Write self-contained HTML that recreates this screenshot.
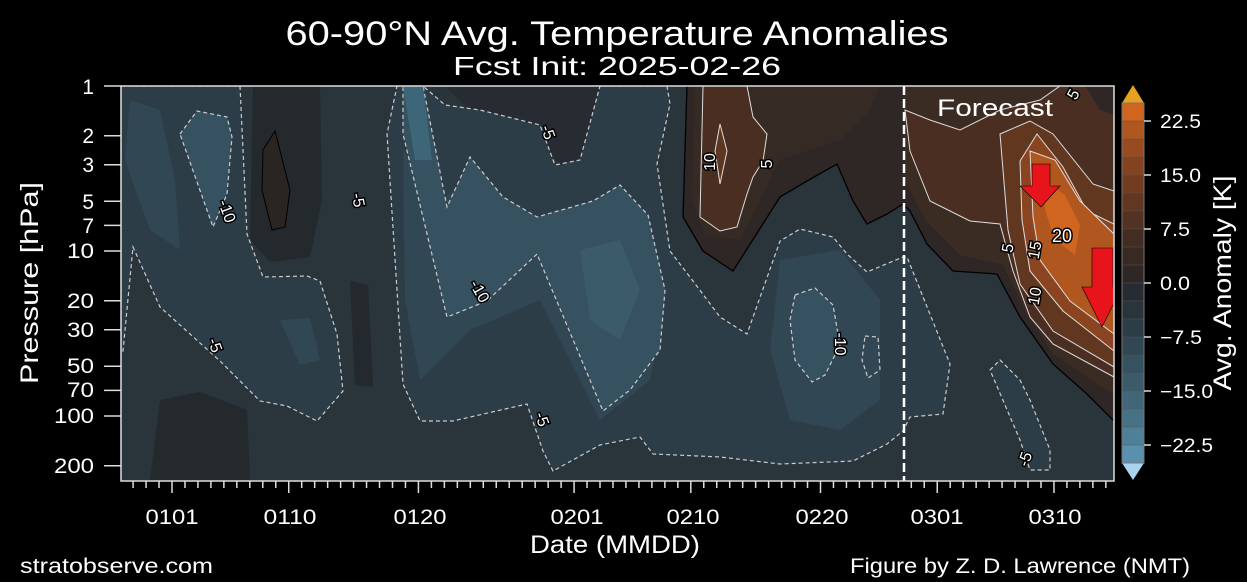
<!DOCTYPE html>
<html><head><meta charset="utf-8"><style>
html,body{margin:0;padding:0;background:#000;}
svg{display:block;font-family:"Liberation Sans",sans-serif;}
.cl{font-size:16px;fill:#fff;stroke:#000;stroke-width:3px;paint-order:stroke;}
</style></head><body>
<svg width="1247" height="582" viewBox="0 0 1247 582" xmlns="http://www.w3.org/2000/svg">
<rect width="1247" height="582" fill="#000"/>
<defs><clipPath id="pc"><rect x="121" y="86" width="993" height="395"/></clipPath></defs>
<g clip-path="url(#pc)">
<rect x="121" y="86" width="993" height="395" fill="#29343b"/>
<path d="M253,86 L320,86 L322,200 L310,257 L270,262 L250,240 Z" fill="#23292d"/>
<path d="M160,400 L200,392 L247,410 L250,481 L150,481 Z" fill="#23292d"/>
<path d="M350,281 L368,285 L373,387 L355,385 Z" fill="#23292d"/>
<path d="M263,150 L275,131 L290,190 L285,227 L272,230 L262,190 Z" fill="#2b2522" stroke="#000" stroke-width="1"/>
<path d="M445,86 L600,86 L600,150 L560,165 L520,120 L470,110 Z" fill="#262c31"/>
<path d="M121,86 L240,86 L247,234 L263,277 L307,276 L320,281 L337,334 L343,391 L317,421 L287,406 L260,401 L220,361 L160,307 L133,247 L123,351 L121,351 Z" fill="#2d3d47" stroke="#ccc" stroke-width="1.2" stroke-dasharray="4,3"/>
<path d="M397,86 L423,86 L445,105 L480,110 L540,125 L555,165 L580,160 L600,86 L667,86 L670,104 L657,164 L670,251 L693,281 L720,317 L747,334 L780,241 L800,229 L833,237 L847,254 L867,272 L903,257 L907,257 L950,364 L943,414 L910,417 L903,431 L887,444 L853,461 L780,464 L720,457 L653,454 L640,437 L600,445 L553,471 L543,451 L527,404 L453,421 L420,421 L403,384 L387,134 Z" fill="#2d3d47" stroke="#ccc" stroke-width="1.2" stroke-dasharray="4,3"/>
<path d="M990,370 L1000,360 L1020,380 L1030,400 L1050,450 L1050,470 L1030,470 L1020,440 L1005,405 Z" fill="#2d3d47" stroke="#ccc" stroke-width="1.2" stroke-dasharray="4,3"/>
<path d="M403,150 L440,200 L470,180 L540,230 L610,205 L650,230 L665,300 L650,380 L600,420 L540,300 L470,330 L420,380 L405,300 Z" fill="#314753"/>
<path d="M780,260 L840,250 L880,300 L880,400 L840,430 L790,420 L770,350 Z" fill="#314753"/>
<path d="M130,100 L160,110 L175,180 L180,250 L150,230 L125,160 Z" fill="#314753"/>
<path d="M280,320 L310,318 L320,360 L300,365 Z" fill="#314753"/>
<path d="M403,86 L423,86 L447,207 L470,157 L503,197 L537,217 L593,201 L620,185 L648,215 L665,290 L660,350 L630,390 L603,411 L537,254 L487,301 L447,317 L403,134 Z" fill="#36515f" stroke="#ccc" stroke-width="1.2" stroke-dasharray="4,3"/>
<path d="M403,86 L423,86 L432,160 L415,160 Z" fill="#3e6679"/>
<path d="M580,250 L620,240 L640,290 L620,340 L590,320 Z" fill="#3b5b6b"/>
<path d="M180,134 L197,111 L227,117 L232,137 L227,194 L213,227 Z" fill="#36515f" stroke="#ccc" stroke-width="1.2" stroke-dasharray="4,3"/>
<path d="M795,295 L815,288 L833,305 L840,345 L825,375 L812,382 L795,360 L790,320 Z" fill="#36515f" stroke="#ccc" stroke-width="1.2" stroke-dasharray="4,3"/>
<path d="M865,336 L878,337 L880,370 L868,378 L862,360 Z" fill="#314753" stroke="#ccc" stroke-width="1.2" stroke-dasharray="4,3"/>
<path d="M687,86 L1114,86 L1114,421 L1087,394 L1053,364 L1020,317 L997,274 L953,271 L927,244 L910,211 L903,204 L887,214 L867,224 L853,201 L837,164 L807,181 L780,197 L733,271 L703,251 L683,217 Z" fill="#2e2726" stroke="#000" stroke-width="1.3"/>
<path d="M695,86 L880,86 L870,110 L840,140 L810,150 L780,160 L760,200 L740,240 L705,235 L692,200 Z" fill="#362a24"/>
<path d="M903,86 L1114,86 L1114,395 L1053,354 L1025,310 L1003,265 L960,255 L925,220 L905,180 Z" fill="#3a2b23"/>
<path d="M703,86 L747,86 L753,117 L767,134 L763,161 L753,177 L747,194 L737,227 L720,231 L700,217 Z" fill="#4a2e22" stroke="#ddd" stroke-width="1"/>
<path d="M720,124 L727,151 L720,184 L715,151 Z" fill="#5e3622" stroke="#ddd" stroke-width="1"/>
<path d="M910,151 L930,201 L970,221 L1000,224 L1013,271 L1030,317 L1053,344 L1114,377 L1114,86 L1060,86 L1040,100 L1000,110 L960,130 L930,120 L905,110 Z" fill="#4a2e22" stroke="#ddd" stroke-width="1"/>
<path d="M1000,134 L1030,121 L1053,134 L1093,184 L1114,191 L1114,367 L1053,331 L1020,284 L1008,230 Z" fill="#62371f" stroke="#ddd" stroke-width="1"/>
<path d="M1020,161 L1037,134 L1063,167 L1087,211 L1114,224 L1114,351 L1063,311 L1030,271 L1022,220 Z" fill="#8a4520" stroke="#ddd" stroke-width="1"/>
<path d="M1030,151 L1055,160 L1080,201 L1114,234 L1114,334 L1070,301 L1040,260 L1033,217 Z" fill="#b0561f" stroke="#ddd" stroke-width="1"/>
<path d="M1045,180 L1065,195 L1080,225 L1075,255 L1055,240 L1045,210 Z" fill="#d0651f"/>
<path d="M1085,86 L1114,86 L1114,115 L1100,110 Z" fill="#2e2726"/>
<line x1="904" y1="86" x2="904" y2="481" stroke="#fff" stroke-width="2.5" stroke-dasharray="9,4"/>
<text class="cl" transform="translate(222,213) rotate(70)" text-anchor="middle">-10</text>
<text class="cl" transform="translate(210,347) rotate(70)" text-anchor="middle">-5</text>
<text class="cl" transform="translate(353,201) rotate(80)" text-anchor="middle">-5</text>
<text class="cl" transform="translate(543,134) rotate(70)" text-anchor="middle">-5</text>
<text class="cl" transform="translate(475,294) rotate(60)" text-anchor="middle">-10</text>
<text class="cl" transform="translate(537,421) rotate(70)" text-anchor="middle">-5</text>
<text class="cl" transform="translate(715,162) rotate(-90)" text-anchor="middle">10</text>
<text class="cl" transform="translate(772,164) rotate(-90)" text-anchor="middle">5</text>
<text class="cl" transform="translate(835,344) rotate(90)" text-anchor="middle">-10</text>
<text class="cl" transform="translate(1078,97) rotate(-60)" text-anchor="middle">5</text>
<text class="cl" x="1062" y="242" text-anchor="middle" style="font-size:18px">20</text>
<text class="cl" transform="translate(1040,251) rotate(-80)" text-anchor="middle">15</text>
<text class="cl" transform="translate(1013,249) rotate(-80)" text-anchor="middle">5</text>
<text class="cl" transform="translate(1040,297) rotate(-80)" text-anchor="middle">10</text>
<text class="cl" transform="translate(1030,461) rotate(-70)" text-anchor="middle">-5</text>
<text x="937" y="116" font-size="24" fill="#fff" textLength="116" lengthAdjust="spacingAndGlyphs">Forecast</text>
<path d="M1032,164 L1050,164 L1050,186 L1060,186 L1041,207 L1020,186 L1032,186 Z" fill="#e8141c" stroke="#000" stroke-width="0.6"/>
<path d="M1092,248 L1113,248 L1113,287 L1122,287 L1102,327 L1082,287 L1092,287 Z" fill="#e8141c" stroke="#000" stroke-width="0.6"/>
</g>
<rect x="121" y="86" width="993" height="395" fill="none" stroke="#ddd" stroke-width="1.5"/>
<g stroke="#ddd" stroke-width="1.5">
<line x1="104" y1="86" x2="121" y2="86"/><line x1="104" y1="135.7" x2="121" y2="135.7"/><line x1="104" y1="164.7" x2="121" y2="164.7"/><line x1="104" y1="201.3" x2="121" y2="201.3"/><line x1="104" y1="225.4" x2="121" y2="225.4"/><line x1="104" y1="251" x2="121" y2="251"/><line x1="104" y1="300.7" x2="121" y2="300.7"/><line x1="104" y1="329.7" x2="121" y2="329.7"/><line x1="104" y1="366.3" x2="121" y2="366.3"/><line x1="104" y1="390.4" x2="121" y2="390.4"/><line x1="104" y1="416" x2="121" y2="416"/><line x1="104" y1="465.7" x2="121" y2="465.7"/>
</g>
<g fill="#fff" font-size="21" text-anchor="end" lengthAdjust="spacingAndGlyphs">
<text x="94" y="94">1</text><text x="94" y="143" textLength="13">2</text><text x="94" y="172" textLength="13">3</text><text x="94" y="209" textLength="13">5</text><text x="94" y="233" textLength="13">7</text><text x="94" y="258" textLength="27" lengthAdjust="spacingAndGlyphs">10</text><text x="94" y="308" textLength="27" lengthAdjust="spacingAndGlyphs">20</text><text x="94" y="337" textLength="27" lengthAdjust="spacingAndGlyphs">30</text><text x="94" y="373" textLength="27" lengthAdjust="spacingAndGlyphs">50</text><text x="94" y="397" textLength="27" lengthAdjust="spacingAndGlyphs">70</text><text x="94" y="423" textLength="40" lengthAdjust="spacingAndGlyphs">100</text><text x="94" y="473" textLength="40" lengthAdjust="spacingAndGlyphs">200</text>
</g>
<text transform="translate(38,283) rotate(-90)" text-anchor="middle" fill="#fff" font-size="25" textLength="202" lengthAdjust="spacingAndGlyphs">Pressure [hPa]</text>
<g stroke="#ddd" stroke-width="1.5" id="xt"></g>
<g fill="#fff" font-size="21" text-anchor="middle">
<text x="172" y="524" textLength="53" lengthAdjust="spacingAndGlyphs">0101</text><text x="290" y="524" textLength="53" lengthAdjust="spacingAndGlyphs">0110</text><text x="420" y="524" textLength="53" lengthAdjust="spacingAndGlyphs">0120</text><text x="577" y="524" textLength="53" lengthAdjust="spacingAndGlyphs">0201</text><text x="693" y="524" textLength="53" lengthAdjust="spacingAndGlyphs">0210</text><text x="822" y="524" textLength="53" lengthAdjust="spacingAndGlyphs">0220</text><text x="937" y="524" textLength="53" lengthAdjust="spacingAndGlyphs">0301</text><text x="1055" y="524" textLength="53" lengthAdjust="spacingAndGlyphs">0310</text>
</g>
<text x="615" y="553" text-anchor="middle" fill="#fff" font-size="25" textLength="170" lengthAdjust="spacingAndGlyphs">Date (MMDD)</text>
<text x="617" y="45" text-anchor="middle" fill="#fff" font-size="34" textLength="663" lengthAdjust="spacingAndGlyphs">60-90°N Avg. Temperature Anomalies</text>
<text x="617" y="75" text-anchor="middle" fill="#fff" font-size="26" textLength="328" lengthAdjust="spacingAndGlyphs">Fcst Init: 2025-02-26</text>
<text x="20" y="573" fill="#fff" font-size="21" textLength="193" lengthAdjust="spacingAndGlyphs">stratobserve.com</text>
<text x="850" y="573" fill="#fff" font-size="21" textLength="340" lengthAdjust="spacingAndGlyphs">Figure by Z. D. Lawrence (NMT)</text>
<g id="cb"></g>
<path d="M1122,103 L1133,85 L1144,103 Z" fill="#e8a020"/>
<path d="M1122,463 L1133,480 L1144,463 Z" fill="#a8d4f0"/>
<rect x="1122" y="103" width="22" height="360" fill="none" stroke="#777" stroke-width="1"/>
<g stroke="#ddd" stroke-width="1.5">
<line x1="1144" y1="121" x2="1151" y2="121"/><line x1="1144" y1="175" x2="1151" y2="175"/><line x1="1144" y1="229" x2="1151" y2="229"/><line x1="1144" y1="283" x2="1151" y2="283"/><line x1="1144" y1="337" x2="1151" y2="337"/><line x1="1144" y1="391" x2="1151" y2="391"/><line x1="1144" y1="445" x2="1151" y2="445"/>
</g>
<g fill="#fff" font-size="19">
<text x="1160" y="128" textLength="41" lengthAdjust="spacingAndGlyphs">22.5</text><text x="1160" y="182" textLength="41" lengthAdjust="spacingAndGlyphs">15.0</text><text x="1160" y="236" textLength="30" lengthAdjust="spacingAndGlyphs">7.5</text><text x="1160" y="290" textLength="30" lengthAdjust="spacingAndGlyphs">0.0</text><text x="1160" y="344" textLength="42" lengthAdjust="spacingAndGlyphs">−7.5</text><text x="1160" y="398" textLength="53" lengthAdjust="spacingAndGlyphs">−15.0</text><text x="1160" y="452" textLength="53" lengthAdjust="spacingAndGlyphs">−22.5</text>
</g>
<text transform="translate(1231,283) rotate(-90)" text-anchor="middle" fill="#fff" font-size="25" textLength="215" lengthAdjust="spacingAndGlyphs">Avg. Anomaly [K]</text>
<script>
(function(){
var ns="http://www.w3.org/2000/svg";
var g=document.getElementById("xt");
var major={0:1,9:1,19:1,31:1,40:1,50:1,59:1,68:1};
for(var d=-3;d<=72;d++){var x=172+12.97*d;if(x>1114)break;var l=document.createElementNS(ns,"line");
l.setAttribute("x1",x);l.setAttribute("x2",x);l.setAttribute("y1",481);l.setAttribute("y2",major[d]?493:488);g.appendChild(l);}
var c=["#d0651f","#b0561f","#984b20","#84431f","#723c21","#623721","#523222","#432d22","#382923","#2e2726","#262c31","#29343b","#2d3d47","#314753","#36515f","#3b5b6b","#416678","#477285","#4f8099","#5890ad"];
var cb=document.getElementById("cb");
for(var i=0;i<20;i++){var r=document.createElementNS(ns,"rect");r.setAttribute("x",1122);r.setAttribute("y",103+18*i);r.setAttribute("width",22);r.setAttribute("height",18.5);r.setAttribute("fill",c[i]);r.setAttribute("stroke","#555");r.setAttribute("stroke-width","0.5");cb.appendChild(r);}
})();
</script>
</svg>
</body></html>
